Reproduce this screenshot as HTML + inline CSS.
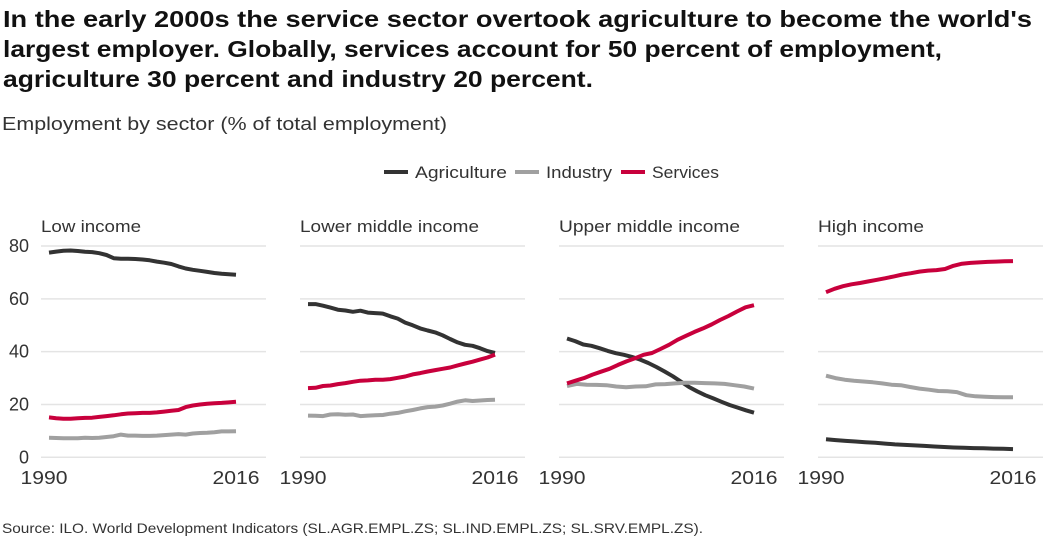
<!DOCTYPE html>
<html><head><meta charset="utf-8"><style>
body{margin:0;width:1056px;height:556px;background:#fff;font-family:"Liberation Sans",sans-serif;overflow:hidden}
svg{position:absolute;left:0;top:0}
</style></head><body>
<svg width="1056" height="556">
<text x="3" y="27" font-size="23" font-weight="bold" fill="#111" textLength="1029" lengthAdjust="spacingAndGlyphs">In the early 2000s the service sector overtook agriculture to become the world's</text>
<text x="3" y="57" font-size="23" font-weight="bold" fill="#111" textLength="939" lengthAdjust="spacingAndGlyphs">largest employer. Globally, services account for 50 percent of employment,</text>
<text x="3" y="87" font-size="23" font-weight="bold" fill="#111" textLength="590" lengthAdjust="spacingAndGlyphs">agriculture 30 percent and industry 20 percent.</text>
<text x="2" y="130" font-size="18" fill="#333" textLength="445" lengthAdjust="spacingAndGlyphs">Employment by sector (% of total employment)</text>
<g>
<line x1="384" y1="172" x2="408" y2="172" stroke="#333" stroke-width="4"/><text x="415" y="178" font-size="17" fill="#333" textLength="92" lengthAdjust="spacingAndGlyphs">Agriculture</text>
<line x1="515" y1="172" x2="539" y2="172" stroke="#a0a0a0" stroke-width="4"/><text x="546" y="178" font-size="17" fill="#333" textLength="66" lengthAdjust="spacingAndGlyphs">Industry</text>
<line x1="621" y1="172" x2="645" y2="172" stroke="#c8003c" stroke-width="4"/><text x="652" y="178" font-size="17" fill="#333" textLength="67" lengthAdjust="spacingAndGlyphs">Services</text>
</g>
<g id="plots"></g>
<text x="2" y="533" font-size="14" fill="#333" textLength="701" lengthAdjust="spacingAndGlyphs">Source: ILO. World Development Indicators (SL.AGR.EMPL.ZS; SL.IND.EMPL.ZS; SL.SRV.EMPL.ZS).</text>
</svg>
<script>
const panelTitles=["Low income","Lower middle income","Upper middle income","High income"];
const yTicks=[0,20,40,60,80];
const xTickLabels=["1990","2016"];
const agriculture=[
[77.5,77.9,78.2,78.3,78.1,77.8,77.7,77.3,76.6,75.4,75.2,75.2,75.1,74.9,74.6,74.1,73.7,73.2,72.3,71.5,71.0,70.6,70.2,69.8,69.5,69.3,69.1],
[58,58,57.4,56.7,55.9,55.6,55.1,55.5,54.8,54.6,54.4,53.4,52.5,51.0,50.0,48.8,48.0,47.3,46.2,44.8,43.5,42.6,42.2,41.3,40.2,39.5],
[45,44,42.7,42.2,41.3,40.3,39.4,38.8,38,37,35.7,34.2,32.5,30.7,28.7,26.6,25.0,23.5,22.3,21.0,19.8,18.8,17.8,16.9],
[6.8,6.5,6.2,6,5.7,5.5,5.2,4.9,4.7,4.5,4.3,4.1,3.9,3.7,3.6,3.5,3.4,3.3,3.2,3.1]];
const industry=[
[7.4,7.3,7.2,7.2,7.2,7.4,7.3,7.4,7.7,8.0,8.6,8.2,8.2,8.1,8.1,8.2,8.4,8.6,8.8,8.6,9.0,9.2,9.3,9.5,9.8,9.8,9.9],
[15.8,15.7,15.6,16.2,16.3,16.1,16.2,15.6,15.8,15.9,16.0,16.5,16.8,17.4,17.9,18.5,19.0,19.2,19.6,20.3,21.1,21.6,21.3,21.5,21.7,21.8],
[27,27.8,27.5,27.4,27.3,26.8,26.5,26.8,26.9,27.6,27.7,28,28.2,28.2,28.1,28,27.8,27.3,26.8,26],
[30.9,30,29.4,29,28.7,28.4,28,27.5,27.3,26.6,26,25.6,25.1,25,24.7,23.5,23.1,22.9,22.8,22.7,22.7]];
const services=[
[15.1,14.8,14.6,14.6,14.8,14.9,15.0,15.3,15.6,15.9,16.3,16.6,16.7,16.8,16.8,17.0,17.3,17.6,17.9,19.0,19.6,20.0,20.3,20.5,20.6,20.8,21.0],
[26.2,26.3,27,27.2,27.7,28.1,28.6,29,29.1,29.4,29.4,29.6,30.1,30.6,31.4,31.9,32.5,33,33.5,34,34.8,35.5,36.2,37,37.8,38.9],
[28,29,30,31.3,32.4,33.5,35,36.3,37.5,38.8,39.5,41,42.6,44.5,46,47.5,48.8,50.3,52,53.5,55.2,56.8,57.6],
[62.5,63.8,64.8,65.5,66,66.6,67.2,67.8,68.5,69.2,69.7,70.3,70.7,70.9,71.3,72.5,73.3,73.6,73.8,74,74.1,74.2,74.3]];
const titleWidths=[100,179,181,106];
const NS="http://www.w3.org/2000/svg";
const g=document.getElementById('plots');
function mk(tag,attrs){const e=document.createElementNS(NS,tag);for(const k in attrs)e.setAttribute(k,attrs[k]);return e;}
const y=v=>457.3-2.641*v;
const series=[[agriculture,"#333","agriculture"],[industry,"#a0a0a0","industry"],[services,"#c8003c","services"]];
for(let p=0;p<4;p++){
  const gl=41+p*259, dl=49+p*259, dw=187;
  const x=(i,n)=>dl+dw*i/(n-1);
  const pg=mk('g',{});
  
  
  g.appendChild(pg);
  yTicks.forEach(t=>{
    const l=mk('line',{x1:gl,x2:gl+225,y1:y(t),y2:y(t),stroke:'#e4e4e4','stroke-width':1.5});
    
    
    pg.appendChild(l);
    if(p===0){const tx=mk('text',{x:29,y:y(t)+6,'font-size':18,fill:'#333','text-anchor':'end'});tx.textContent=t;
      
      
      pg.appendChild(tx);}
  });
  const tt=mk('text',{x:gl,y:232,'font-size':17,fill:'#333',textLength:titleWidths[p],lengthAdjust:'spacingAndGlyphs'});tt.textContent=panelTitles[p];
  
  
  pg.appendChild(tt);
  [[xTickLabels[0],dl-5],[xTickLabels[1],dl+dw]].forEach(([s,xx])=>{
    const tx=mk('text',{x:xx,y:484,'font-size':18,fill:'#333','text-anchor':'middle',textLength:47,lengthAdjust:'spacingAndGlyphs'});tx.textContent=s;
    
    
    pg.appendChild(tx);
  });
  series.forEach(([arr,col,nm])=>{
    const d=arr[p];
    const pts=d.map((v,i)=>x(i,d.length).toFixed(1)+','+y(v).toFixed(1)).join(' ');
    const pl=mk('polyline',{points:pts,fill:'none',stroke:col,'stroke-width':4,'stroke-linejoin':'round'});
    
    
    pg.appendChild(pl);
  });
}
</script>
</body></html>
